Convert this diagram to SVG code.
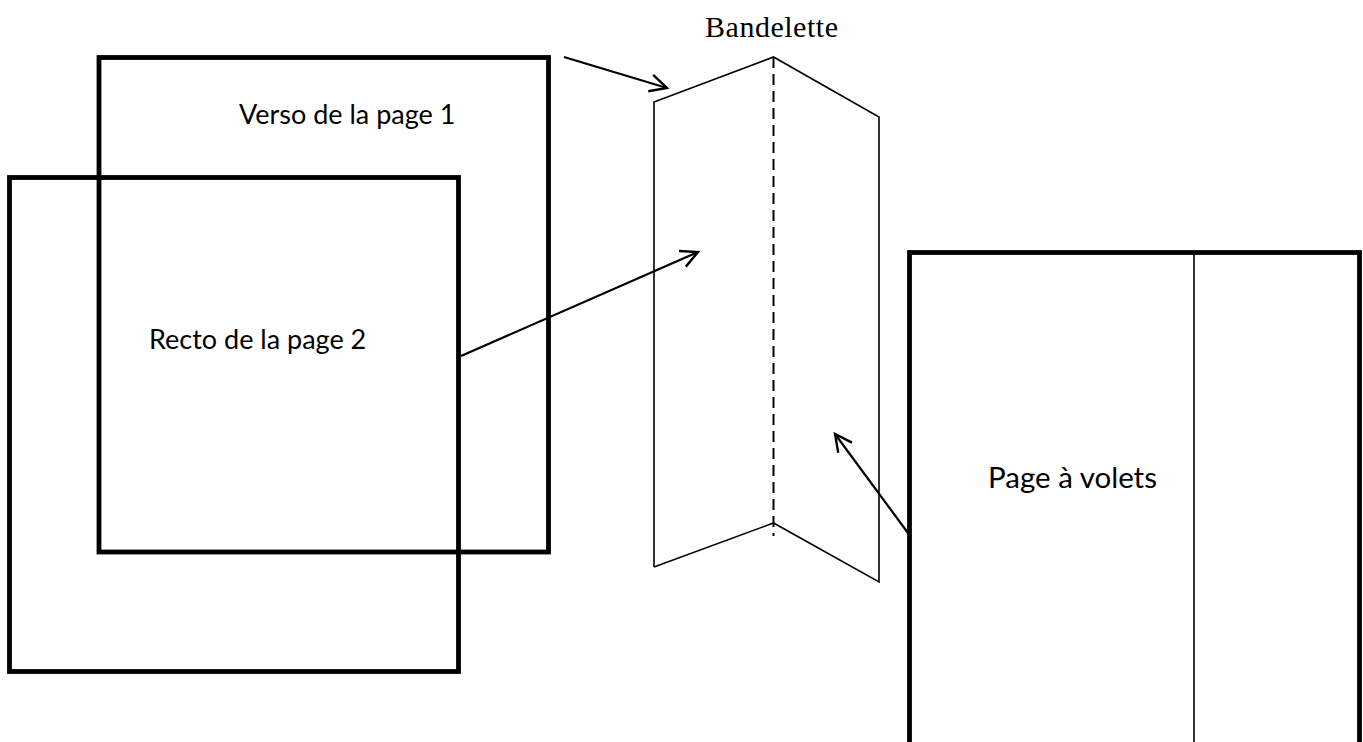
<svg xmlns="http://www.w3.org/2000/svg" width="1363" height="742" viewBox="0 0 1363 742">
<style>
.page{fill:none;stroke:#000;stroke-width:4.8;stroke-linejoin:miter}
.thin{fill:none;stroke:#000;stroke-width:1.6}
.conn{fill:none;stroke:#000;stroke-width:2.2}
.lbl{font-family:Lato,"Open Sans",sans-serif;font-size:27px;fill:#000}
.ser{font-family:"Liberation Serif","Times New Roman",serif;font-size:30px;fill:#000}
</style>
<defs>
<marker id="arr" markerUnits="userSpaceOnUse" markerWidth="24" markerHeight="24" viewBox="-20 -12 24 24" refX="0" refY="0" orient="auto">
<path d="M-17,-8.5 L0,0 L-17,8.5" fill="none" stroke="#000" stroke-width="2.4"/>
</marker>
</defs>
<rect width="1363" height="742" fill="#fff"/>
<g id="verso">
<rect class="page" x="99" y="57.5" width="449.5" height="494.5"/>
<text class="lbl" x="239" y="124">Verso de la page 1</text>
</g>
<g id="recto">
<rect class="page" x="9.5" y="177.5" width="449" height="494"/>
<text class="lbl" x="149" y="349">Recto de la page 2</text>
</g>
<g id="bandelette">
<text class="ser" x="705" y="37" textLength="133" lengthAdjust="spacing">Bandelette</text>
<polyline class="thin" points="654,567 654,102 773.5,57 879,117 879,582 773.5,523 654,567"/>
<line x1="773.5" y1="57" x2="773.5" y2="536" stroke="#000" stroke-width="2" stroke-dasharray="11 6"/>
</g>
<g id="page-volets">
<rect class="page" x="909.5" y="252.5" width="450" height="520"/>
<line x1="1194" y1="252.5" x2="1194" y2="742" stroke="#000" stroke-width="1.6"/>
<text class="lbl" x="988" y="488" style="font-size:29.5px">Page à volets</text>
</g>
<g id="connectors">
<line class="conn" x1="564" y1="57" x2="667" y2="88" marker-end="url(#arr)"/>
<line class="conn" x1="461" y1="356" x2="698" y2="252" marker-end="url(#arr)"/>
<line class="conn" x1="908" y1="533" x2="835" y2="434" marker-end="url(#arr)"/>
</g>
</svg>
